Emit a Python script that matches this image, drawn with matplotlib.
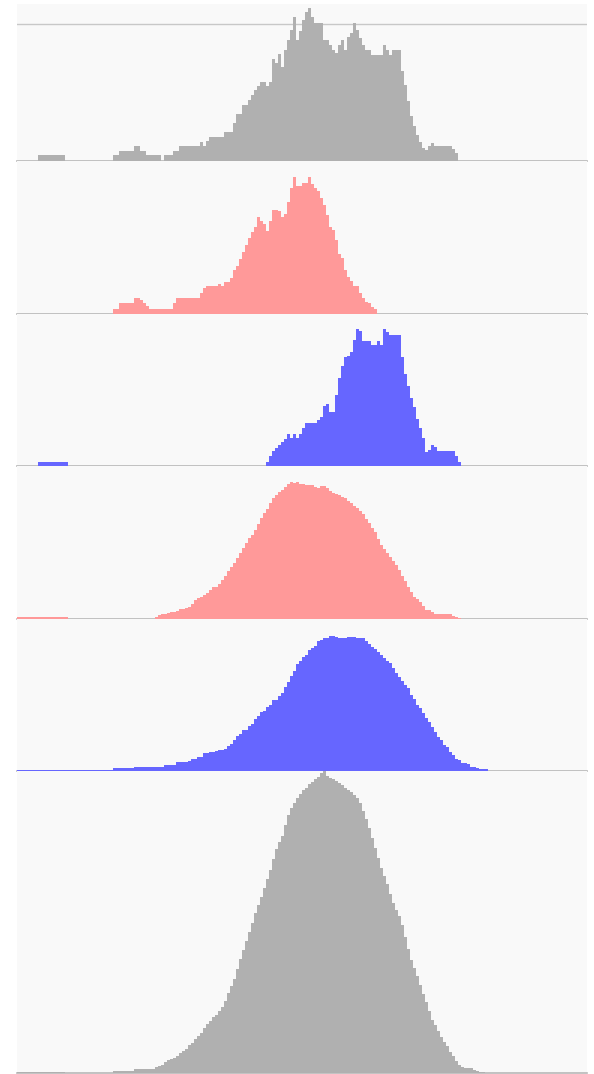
import numpy as np
import matplotlib
matplotlib.use("Agg")
import matplotlib.pyplot as plt

# histogram rows, top to bottom. bins are 1 unit wide on a 0..190 scale
# (start bin, counts) for the main body, (lo, hi, count) for flat tails
grey1_start = 32
grey1 = [6, 6, 10, 10, 10, 10, 10, 15, 15, 10, 10, 6, 6, 6, 6, 6, 0, 6, 6, 6, 10, 10,
         15, 15, 15, 15, 15, 15, 15, 19, 15, 20, 24, 24, 24, 24, 24, 29, 29, 29,
         38, 47, 47, 56, 56, 61, 66, 71, 75, 79, 79, 75, 79, 102, 98, 107, 94, 111,
         121, 131, 144, 121, 130, 141, 149, 153, 144, 138, 138, 138, 121, 121, 116, 111,
         108, 116, 121, 111, 124, 128, 138, 131, 123, 116, 111, 111, 106, 106, 106, 106,
         116, 111, 106, 111, 111, 111,
         90, 76, 60, 45, 35, 26, 19, 13, 11, 15, 18, 15, 15, 15, 15, 15, 15, 12, 8]
grey1_tails = [(7, 16, 6)]
grey1_ref = 137

pink1_start = 32
pink1 = [5, 5, 11, 11, 11, 11, 11, 16, 16, 14, 11, 8, 5, 5, 5, 5, 5, 5, 5, 5, 11,
         16, 16, 16, 16, 16, 16, 16, 16, 21, 26, 28, 28, 28, 28, 30, 28, 32, 32, 36,
         44, 48, 55, 62, 69, 76, 82, 87, 97, 93, 90, 83, 93, 104, 104, 103, 97, 100,
         112, 126, 137, 128, 128, 131, 131, 137, 130, 126, 123, 116, 109, 99, 87, 84,
         74, 60, 56, 44, 37, 33, 28, 28, 21, 16, 12, 11, 7, 5]
pink1_tails = []

blue1_start = 83
blue1 = [4, 10, 15, 18, 21, 24, 27, 32, 28, 32, 28, 32,
         38, 43, 43, 43, 43, 46, 49, 60, 62, 54, 54,
         71, 88, 100, 109, 110, 114, 126, 137, 135, 125, 125, 125, 121, 121, 125, 121,
         137, 134, 131, 131, 131, 131,
         109, 92, 80, 68, 59, 47, 38, 28, 14, 16, 21, 19, 15, 15, 15, 15, 15, 15, 10, 4]
blue1_tails = [(7, 17, 4)]

pink2_start = 46
pink2 = [2, 4, 5, 5, 6, 7, 7, 8, 10, 10,
         11, 12, 15, 19, 21, 22, 24, 26, 29, 32,
         32, 35, 39, 43, 48, 52, 56, 61, 66, 71,
         76, 81, 84, 89, 95, 101, 106, 110, 116, 121,
         124, 127, 129, 132, 135, 137, 136, 137, 135, 135,
         134, 134, 134, 132, 131, 133, 133, 131, 128, 126,
         125, 124, 122, 121, 118, 116, 113, 111, 108, 105,
         100, 96, 91, 87, 80, 74, 70, 66, 62, 58,
         54, 49, 43, 38, 32, 27, 22, 20, 17, 13,
         9, 9, 7, 5, 5, 5, 5, 5, 5, 3,
         2, 1]
pink2_tails = [(0, 17, 2)]

blue2_start = 32
blue2 = [3, 3, 3, 3, 3, 3, 3, 4, 4, 4,
         4, 4, 4, 4, 4, 4, 4, 6.5, 6.5, 6.5,
         6.5, 9, 9, 9, 9, 10, 12, 12, 14, 14,
         18, 18, 19, 19, 20, 21, 21, 22, 25, 27,
         31, 35, 37, 41, 41, 45, 47, 52, 55, 59,
         60, 64, 66, 71, 71, 75, 78, 84, 89, 95,
         100, 107, 110, 114, 116, 121, 123, 125, 130, 131,
         133, 133, 135, 135, 134, 133, 133, 133, 134, 134,
         134, 133, 133, 133, 130, 127, 124, 122, 119, 116,
         113, 110, 108, 103, 98, 94, 90, 86, 83, 76,
         72, 66, 63, 58, 53, 49, 44, 39, 34, 31,
         26, 24, 19, 16, 12, 11, 8, 8, 7, 4,
         4, 3, 2, 2, 2]
blue2_tails = [(0, 32, 1.5)]

grey2_start = 32
grey2 = [2, 2, 2, 2, 2, 2, 2, 4, 4, 4,
         4, 4, 4, 4, 6, 7, 8, 11, 13, 14,
         15, 17, 20, 22, 24, 28, 30, 34, 37, 40,
         45, 49, 52, 56, 58, 62, 66, 72, 80, 87,
         94, 104, 114, 123, 132, 141, 150, 160, 168, 176,
         185, 194, 203, 214, 224, 231, 237, 248, 258, 265,
         270, 275, 279, 283, 285, 289, 291, 294, 296, 300,
         302, 297, 295, 294, 292, 290, 288, 285, 283, 281,
         278, 275, 270, 262, 254, 245, 235, 225, 215, 205,
         197, 189, 179, 170, 163, 157, 148, 136, 124, 113,
         105, 97, 88, 79, 71, 62, 53, 48, 42, 36,
         31, 27, 21, 17, 12, 8, 6, 5, 5, 5,
         3, 2, 1.5, 1.5]
grey2_tails = [(0, 16, 1), (16, 32, 0.5)]

GREY = "#b0b0b0"
PINK = "#ff9999"
BLUE = "#6666ff"

rows = [
    (grey1_start, grey1, grey1_tails, GREY, 157),
    (pink1_start, pink1, pink1_tails, PINK, 153),
    (blue1_start, blue1, blue1_tails, BLUE, 152),
    (pink2_start, pink2, pink2_tails, PINK, 153),
    (blue2_start, blue2, blue2_tails, BLUE, 152),
    (grey2_start, grey2, grey2_tails, GREY, 302),
]

W, H = 594, 1074
fig = plt.figure(figsize=(W / 100, H / 100), dpi=100)
fig.patch.set_facecolor("white")

top = 4
left = 17
width = 570
for i, (start, counts, tails, color, h) in enumerate(rows):
    bottom = top + h
    ax = fig.add_axes([left / W, 1 - bottom / H, width / W, h / H])
    ax.set_facecolor("#f9f9f9")
    edges = np.arange(start, start + len(counts) + 1)
    ax.stairs(counts, edges, fill=True, color=color, lw=0, zorder=2)
    for lo, hi, c in tails:
        ax.stairs([c], [lo, hi], fill=True, color=color, lw=0, zorder=2)
    ax.axhline(0, color="#b8b8b8", lw=1.2, zorder=1, clip_on=False)
    if i == 0:
        ax.axhline(grey1_ref, color="#c8c8c8", lw=1.0, zorder=1)
    ax.set_xlim(0, 190)
    ax.set_ylim(0, h)
    # no ticks / frame, keep the light background
    ax.set_xticks([])
    ax.set_yticks([])
    for s in ax.spines.values():
        s.set_visible(False)
    top = bottom

fig.savefig("out.png", dpi=100, facecolor="white")
